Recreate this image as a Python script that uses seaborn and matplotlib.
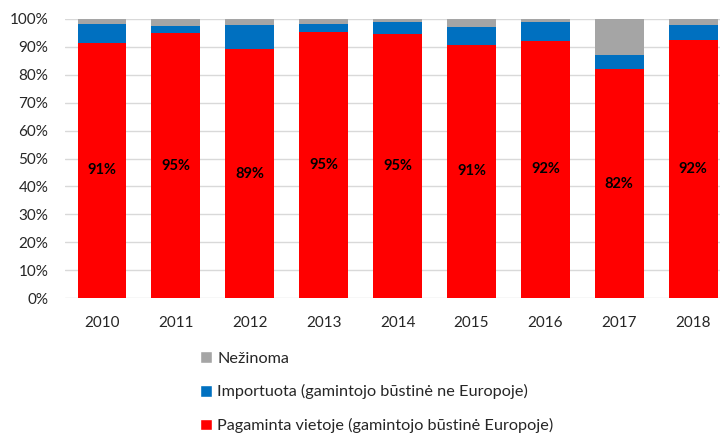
import matplotlib
matplotlib.use("Agg")
import matplotlib.pyplot as plt
import seaborn as sns
import pandas as pd
from matplotlib.patches import Patch
from matplotlib.ticker import FuncFormatter

years = ["2010", "2011", "2012", "2013", "2014", "2015", "2016", "2017", "2018"]
local = [91.4, 94.9, 89.2, 95.3, 94.8, 90.7, 92.2, 82.0, 92.3]
imported = [6.8, 2.7, 8.75, 3.0, 4.2, 6.4, 6.7, 5.1, 5.65]
unknown = [1.8, 2.4, 2.05, 1.7, 1.0, 2.9, 1.1, 12.9, 2.05]
labels = ["91%", "95%", "89%", "95%", "95%", "91%", "92%", "82%", "92%"]

names = ["Pagaminta vietoje (gamintojo būstinė Europoje)",
         "Importuota (gamintojo būstinė ne Europoje)",
         "Nežinoma"]
colors = ["#FF0000", "#0070C0", "#A5A5A5"]

df = pd.DataFrame({"year": years, "local": local, "imported": imported, "unknown": unknown})
df["c1"] = df["local"]
df["c2"] = df["local"] + df["imported"]
df["c3"] = df["c2"] + df["unknown"]

sns.set_theme(style="white")
plt.rcParams["font.family"] = ["Lato", "DejaVu Sans"]

fig = plt.figure(figsize=(7.2, 4.34), dpi=100)
ax = fig.add_axes([65/720, 136/434, 1 - 65/720, 279/434])

w = 0.66
sns.barplot(data=df, x="year", y="c3", color=colors[2], width=w, ax=ax, saturation=1, linewidth=0, zorder=3)
sns.barplot(data=df, x="year", y="c2", color=colors[1], width=w, ax=ax, saturation=1, linewidth=0, zorder=3)
sns.barplot(data=df, x="year", y="c1", color=colors[0], width=w, ax=ax, saturation=1, linewidth=0, zorder=3)

for i, (v, lab) in enumerate(zip(local, labels)):
    ax.text(i, v / 2, lab, ha="center", va="center", fontsize=10.5, fontweight="bold", color="black", zorder=4)

ax.set_ylim(0, 100)
ax.set_xlim(-0.5, (720 - 65) / 73.9 - 0.5)
ax.set_yticks(range(0, 101, 10))
ax.yaxis.set_major_formatter(FuncFormatter(lambda v, p: f"{int(v)}%"))
ax.grid(axis="y", color="#D9D9D9", linewidth=1, zorder=0)
ax.set_axisbelow(True)
for s in ax.spines.values():
    s.set_visible(False)
ax.set_xlabel("")
ax.set_ylabel("")
ax.tick_params(axis="both", length=0, labelsize=11, colors="#262626")
ax.tick_params(axis="y", pad=12)
ax.tick_params(axis="x", pad=13)

handles = [Patch(facecolor=colors[2]), Patch(facecolor=colors[1]), Patch(facecolor=colors[0])]
leg = fig.legend(handles, [names[2], names[1], names[0]], loc="upper left",
                 bbox_to_anchor=(200/720, 1 - 351/434), frameon=False, fontsize=11.7,
                 handlelength=0.75, handleheight=0.75, handletextpad=0.3, labelspacing=1.15,
                 borderpad=0, borderaxespad=0)
for t in leg.get_texts():
    t.set_color("#262626")

fig.savefig("out.png", dpi=100)
